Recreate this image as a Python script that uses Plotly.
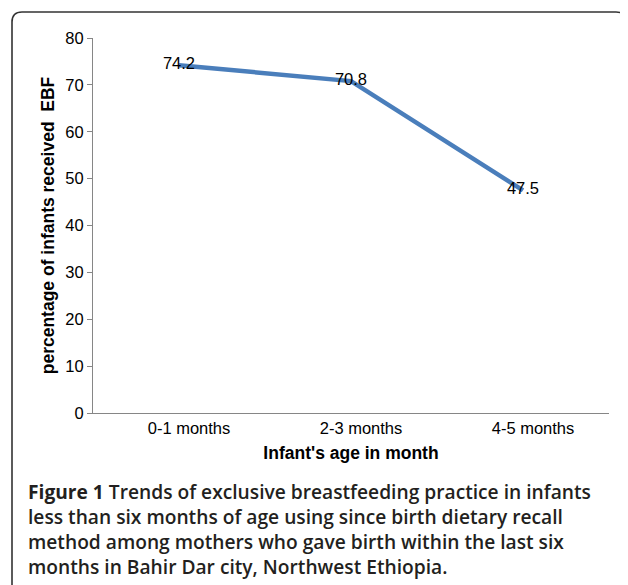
import plotly.graph_objects as go

categories = ["0-1 months", "2-3 months", "4-5 months"]
values = [74.2, 70.8, 47.5]
value_labels = ["74.2", "70.8", "47.5"]
y_ticks = [0, 10, 20, 30, 40, 50, 60, 70, 80]

OFF = 8  # default page body margin
W, H = 628 - OFF, 585 - OFF
# plot area in reference pixels: x 93..609, y 38..413
L = 93 - OFF
T = 38 - OFF
R = W - (609 - OFF)
B = H - (413 - OFF)
pw, ph = W - L - R, H - T - B


def px(x):
    return (x - OFF - L) / pw


def py(y):
    return (H - B - (y - OFF)) / ph


FONT = "Liberation Sans, Arial"

fig = go.Figure()
fig.add_trace(go.Scatter(
    x=[0, 1, 2], y=values, mode="lines+text",
    line=dict(color="#4A7EBB", width=4.5),
    text=value_labels, textposition="middle center",
    textfont=dict(family=FONT, size=16.5, color="#000000"),
    hoverinfo="skip", showlegend=False, cliponaxis=False,
))

# rounded frame
x0, x1, y0, y1 = px(12), px(626), py(12), py(640)
rx, ry = 10 / pw, 10 / ph
path = (f"M {x0},{y1} L {x0},{y0 - ry} Q {x0},{y0} {x0 + rx},{y0} "
        f"L {x1 - rx},{y0} Q {x1},{y0} {x1},{y0 - ry} L {x1},{y1}")
fig.add_shape(type="path", path=path, xref="paper", yref="paper",
              line=dict(color="#333333", width=1.6))

caption_lines = [
    "<b>Figure 1</b> Trends of exclusive breastfeeding practice in infants",
    "less than six months of age using since birth dietary recall",
    "method among mothers who gave birth within the last six",
    "months in Bahir Dar city, Northwest Ethiopia.",
]
for i, line in enumerate(caption_lines):
    fig.add_annotation(
        text=line, xref="paper", yref="paper", x=px(26), y=py(492 + i * 24.8),
        xanchor="left", yanchor="middle", showarrow=False, align="left",
        font=dict(family="Open Sans, Noto Sans", size=19.2, color="#231F20", weight=600),
    )

fig.update_layout(
    width=W, height=H,
    margin=dict(l=L, r=R, t=T, b=B, pad=0),
    paper_bgcolor="white", plot_bgcolor="white",
    font=dict(family=FONT, size=16.5, color="#000000"),
    xaxis=dict(
        range=[-0.5, 2.5], tickmode="array", tickvals=[0, 1, 2], ticktext=categories,
        showgrid=False, zeroline=False, showline=True, linecolor="#868686", linewidth=1.2,
        ticks="", ticklabelshift=10,
        title=dict(text="<b>Infant's age in month</b>", standoff=10,
                   font=dict(family=FONT, size=17.5, color="#000000")),
        tickfont=dict(family=FONT, size=16.5, color="#000000"),
        fixedrange=True,
    ),
    yaxis=dict(
        range=[0, 80], tickmode="array", tickvals=y_ticks,
        showgrid=False, zeroline=False, showline=True, linecolor="#868686", linewidth=1.2,
        ticks="outside", ticklen=5, tickcolor="#868686", tickwidth=1,
        title=dict(text="<b>percentage of infants received  EBF</b>", standoff=6,
                   font=dict(family=FONT, size=17.5, color="#000000")),
        tickfont=dict(family=FONT, size=16.5, color="#000000"),
        fixedrange=True,
    ),
)

fig.write_html("out.html")
